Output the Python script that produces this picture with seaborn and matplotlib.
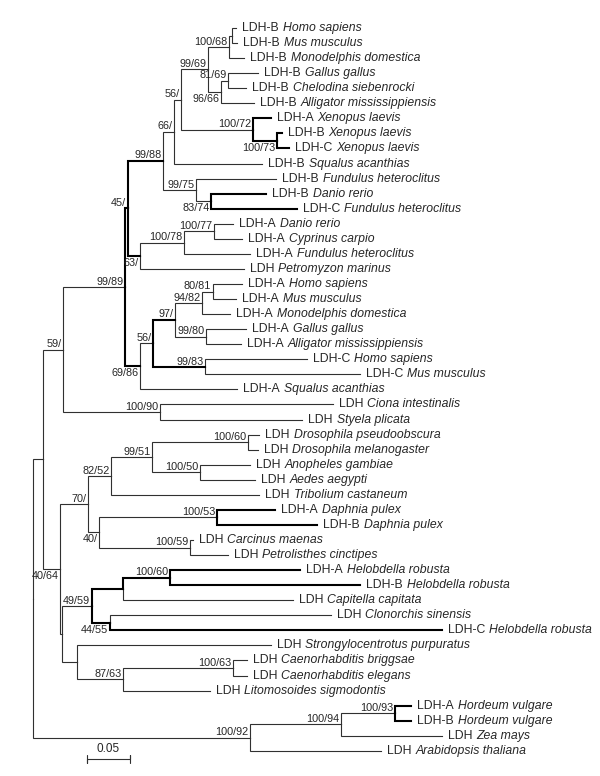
import numpy as np
import pandas as pd
import matplotlib
matplotlib.use("Agg")
import matplotlib.pyplot as plt
import seaborn as sns

# leaves (top to bottom)
genes = ["LDH-B", "LDH-B", "LDH-B", "LDH-B", "LDH-B", "LDH-B", "LDH-A", "LDH-B", "LDH-C",
         "LDH-B", "LDH-B", "LDH-B", "LDH-C", "LDH-A", "LDH-A", "LDH-A", "LDH", "LDH-A",
         "LDH-A", "LDH-A", "LDH-A", "LDH-A", "LDH-C", "LDH-C", "LDH-A", "LDH", "LDH",
         "LDH", "LDH", "LDH", "LDH", "LDH", "LDH-A", "LDH-B", "LDH", "LDH", "LDH-A",
         "LDH-B", "LDH", "LDH", "LDH-C", "LDH", "LDH", "LDH", "LDH", "LDH-A", "LDH-B",
         "LDH", "LDH"]
species = ["Homo sapiens", "Mus musculus", "Monodelphis domestica", "Gallus gallus",
           "Chelodina siebenrocki", "Alligator mississippiensis", "Xenopus laevis",
           "Xenopus laevis", "Xenopus laevis", "Squalus acanthias", "Fundulus heteroclitus",
           "Danio rerio", "Fundulus heteroclitus", "Danio rerio", "Cyprinus carpio",
           "Fundulus heteroclitus", "Petromyzon marinus", "Homo sapiens", "Mus musculus",
           "Monodelphis domestica", "Gallus gallus", "Alligator mississippiensis",
           "Homo sapiens", "Mus musculus", "Squalus acanthias", "Ciona intestinalis",
           "Styela plicata", "Drosophila pseudoobscura", "Drosophila melanogaster",
           "Anopheles gambiae", "Aedes aegypti", "Tribolium castaneum", "Daphnia pulex",
           "Daphnia pulex", "Carcinus maenas", "Petrolisthes cinctipes", "Helobdella robusta",
           "Helobdella robusta", "Capitella capitata", "Clonorchis sinensis",
           "Helobdella robusta", "Strongylocentrotus purpuratus", "Caenorhabditis briggsae",
           "Caenorhabditis elegans", "Litomosoides sigmodontis", "Hordeum vulgare",
           "Hordeum vulgare", "Zea mays", "Arabidopsis thaliana"]
leaf_parent = ["hm_b", "hm_b", "n100_68", "n81_69", "n81_69", "n96_66", "n100_72", "n100_73",
               "n100_73", "n66", "n99_75", "n83_74", "n83_74", "n100_77", "n100_77", "n100_78",
               "n63", "n80_81", "n80_81", "n94_82", "n99_80", "n99_80", "n99_83", "n99_83",
               "n69_86", "n100_90", "n100_90", "n100_60a", "n100_60a", "n100_50", "n100_50",
               "n82_52", "n100_53", "n100_53", "n100_59", "n100_59", "n100_60b", "n100_60b",
               "nhc", "n44_55", "n44_55", "nsn", "n100_63", "n100_63", "n87_63", "n100_93",
               "n100_93", "n100_94", "n100_92"]
leaf_depth = [0.2360, 0.2372, 0.2453, 0.2616, 0.2477, 0.2570, 0.2767, 0.2895, 0.2977,
              0.2663, 0.2826, 0.2709, 0.3070, 0.2326, 0.2430, 0.2523, 0.2453, 0.2430,
              0.2360, 0.2291, 0.2477, 0.2419, 0.3186, 0.3802, 0.2372, 0.3488, 0.3128,
              0.2628, 0.2616, 0.2523, 0.2581, 0.2628, 0.2814, 0.3302, 0.1860, 0.2267,
              0.3105, 0.3802, 0.3023, 0.3465, 0.4756, 0.2767, 0.2488, 0.2488, 0.2058,
              0.4395, 0.4395, 0.4756, 0.4047]

# internal nodes
node_names = ["root", "n1", "n59", "n99_89", "n45", "n99_88", "n66", "n56a", "n99_69",
              "n100_68", "hm_b", "n96_66", "n81_69", "n100_72", "n100_73", "n99_75",
              "n83_74", "n63", "n100_78", "n100_77", "n69_86", "n56b", "n97", "n94_82",
              "n80_81", "n99_80", "n99_83", "n100_90", "n40_64", "n70", "n82_52", "n99_51",
              "n100_60a", "n100_50", "n40", "n100_53", "n100_59", "nlo", "n49_59", "nhc",
              "n100_60b", "n44_55", "nsn", "n87_63", "n100_63", "n100_92", "n100_94",
              "n100_93"]
node_parent = [None, "root", "n1", "n59", "n99_89", "n45", "n99_88", "n66", "n56a",
               "n99_69", "n100_68", "n99_69", "n96_66", "n56a", "n100_72", "n99_88",
               "n99_75", "n45", "n63", "n100_78", "n99_89", "n69_86", "n56b", "n97",
               "n94_82", "n97", "n56b", "n59", "n1", "n40_64", "n70", "n82_52", "n99_51",
               "n99_51", "n70", "n40", "n40", "n40_64", "nlo", "n49_59", "nhc", "n49_59",
               "nlo", "nsn", "n87_63", "root", "n100_92", "n100_94"]
node_depth = [0.0, 0.0116, 0.0349, 0.1070, 0.1105, 0.1512, 0.1640, 0.1721, 0.2035,
              0.2279, 0.2314, 0.2186, 0.2267, 0.2558, 0.2837, 0.1895, 0.2070, 0.1244,
              0.1756, 0.2105, 0.1244, 0.1395, 0.1651, 0.1965, 0.2093, 0.2012, 0.2000,
              0.1477, 0.0314, 0.0640, 0.0907, 0.1384, 0.2500, 0.1942, 0.0767, 0.2140,
              0.1826, 0.0337, 0.0686, 0.1047, 0.1593, 0.0895, 0.0512, 0.1047, 0.2326,
              0.2523, 0.3581, 0.4209]
node_support = ["", "", "59/", "99/89", "45/", "99/88", "66/", "56/", "99/69", "100/68",
                "", "96/66", "81/69", "100/72", "100/73", "99/75", "83/74", "63/",
                "100/78", "100/77", "69/86", "56/", "97/", "94/82", "80/81", "99/80",
                "99/83", "100/90", "40/64", "70/", "82/52", "99/51", "100/60", "100/50",
                "40/", "100/53", "100/59", "", "49/59", "", "100/60", "44/55", "",
                "87/63", "100/63", "100/92", "100/94", "100/93"]
support_below = ["n96_66", "n100_73", "n83_74", "n63", "n69_86", "n40", "n40_64", "n44_55"]

# branches drawn thick
bold_nodes = ["n45", "n69_86", "n99_88", "n63", "n97", "n99_83", "n100_73", "n100_60b",
              "nhc", "n44_55"]
bold_leaves = [6, 7, 8, 11, 12, 32, 33, 36, 37, 40, 45, 46]

scale_len = 0.05

# ---- layout of the tree ----
depth = dict(zip(node_names, node_depth))
children = {n: [] for n in node_names}
ypos = {}
for i, p in enumerate(leaf_parent):
    key = f"leaf{i}"
    depth[key] = leaf_depth[i]
    ypos[key] = i
    children[p].append(key)
for n, p in zip(node_names, node_parent):
    if p is not None:
        children[p].append(n)


def get_y(n):
    if n not in ypos:
        ys = [get_y(c) for c in children[n]]
        ypos[n] = (min(ys) + max(ys)) / 2
    return ypos[n]


for n in node_names:
    get_y(n)

bold_set = set(bold_nodes) | {f"leaf{i}" for i in bold_leaves}
rows = []
seg = 0
for p in node_names:
    for c in children[p]:
        w = "bold" if c in bold_set else "thin"
        for x, y in [(depth[p], ypos[p]), (depth[p], ypos[c]), (depth[c], ypos[c])]:
            rows.append({"x": x, "y": y, "seg": seg, "w": w})
        seg += 1
branches = pd.DataFrame(rows)

sns.set_style("white")
plt.rcParams["font.family"] = ["Liberation Sans", "DejaVu Sans"]

fig = plt.figure(figsize=(6, 7.76), dpi=100)
ax = fig.add_axes([0, 0, 1, 1])

sns.lineplot(data=branches, x="x", y="y", units="seg", estimator=None, sort=False,
             hue="w", palette={"thin": "#303030", "bold": "black"},
             size="w", sizes={"thin": 0.8, "bold": 1.5}, legend=False, ax=ax,
             solid_joinstyle="miter", solid_capstyle="projecting")

# leaf labels
for i in range(len(genes)):
    t = ax.annotate(genes[i], xy=(leaf_depth[i], i), xytext=(4.6, 0),
                    textcoords="offset points", ha="left", va="center", fontsize=8.8)
    ax.annotate(species[i], xy=(1, 0), xycoords=t, xytext=(2.6, 0),
                textcoords="offset points", ha="left", va="bottom", fontsize=8.8,
                fontstyle="italic")

# bootstrap support
for n, s in zip(node_names, node_support):
    if not s:
        continue
    if n in support_below:
        ax.annotate(s, xy=(depth[n], ypos[n]), xytext=(-1.2, -1.4),
                    textcoords="offset points", ha="right", va="top", fontsize=7.8)
    else:
        ax.annotate(s, xy=(depth[n], ypos[n]), xytext=(-1.2, 0.2),
                    textcoords="offset points", ha="right", va="bottom", fontsize=7.8)

# scale bar
sb_x0, sb_y = 0.0628, 48.54
bar = pd.DataFrame({"x": [sb_x0, sb_x0, sb_x0, sb_x0 + scale_len, sb_x0 + scale_len, sb_x0 + scale_len],
                    "y": [sb_y - 0.27, sb_y + 0.27, sb_y, sb_y, sb_y - 0.27, sb_y + 0.27]})
sns.lineplot(data=bar, x="x", y="y", sort=False, estimator=None, color="#303030",
             lw=0.8, ax=ax)
ax.text(sb_x0 + scale_len / 2, sb_y - 0.25, f"{scale_len:.2f}", ha="center", va="bottom",
        fontsize=8.5)

ax.set_xlim(-33 / 860, 567 / 860)
ax.set_ylim(49.67, -1.859)
ax.axis("off")

fig.savefig("out.png", dpi=100)
